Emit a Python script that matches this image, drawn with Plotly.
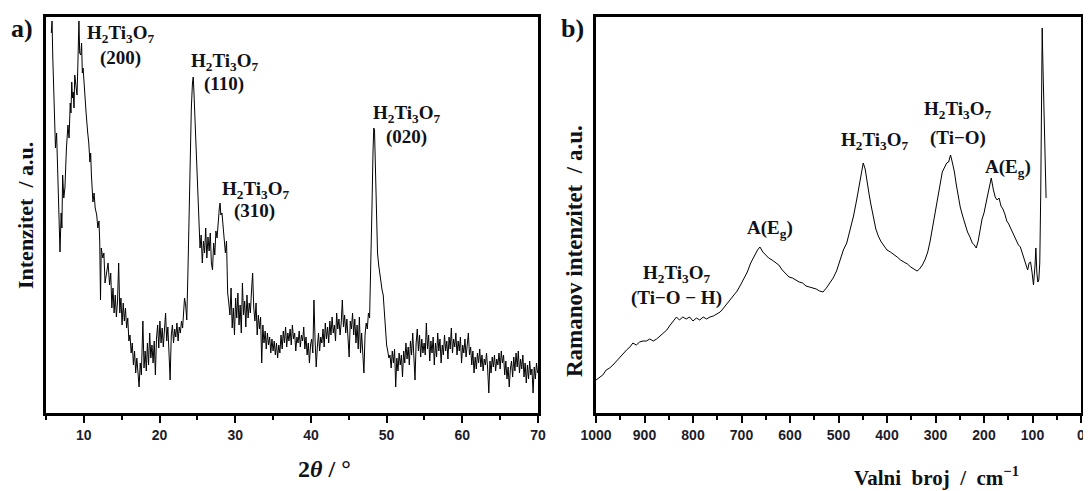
import plotly.graph_objects as go

# ---------------- XRD data (2theta / deg, intensity a.u.) ----------------
xrd_two_theta = [
    5.7, 5.8, 5.9, 6.0, 6.1, 6.25, 6.4, 6.5, 6.65, 6.75,
    6.85, 7.0, 7.1, 7.2, 7.35, 7.5, 7.6, 7.7, 7.9, 8.05,
    8.2, 8.3, 8.4, 8.5, 8.6, 8.7, 8.8, 8.95, 9.1, 9.2,
    9.25, 9.35, 9.45, 9.6, 9.7, 9.8, 9.9, 10.0, 10.1, 10.3,
    10.5, 10.65, 10.8, 10.9, 11.0, 11.2, 11.35, 11.5, 11.7, 11.85,
    12.0, 12.1, 12.2, 12.3, 12.5, 12.65, 12.8, 13.0, 13.2, 13.4,
    13.55, 13.7, 13.85, 14.0, 14.15, 14.3, 14.45, 14.6, 14.75, 14.9,
    15.05, 15.2, 15.35, 15.5, 15.65, 15.8, 15.95, 16.1, 16.25, 16.4,
    16.55, 16.7, 16.85, 17.0, 17.15, 17.3, 17.45, 17.6, 17.8, 17.95,
    18.1, 18.25, 18.4, 18.55, 18.7, 18.85, 19.0, 19.15, 19.3, 19.45,
    19.6, 19.75, 19.9, 20.05, 20.2, 20.35, 20.5, 20.65, 20.8, 20.95,
    21.1, 21.25, 21.4, 21.55, 21.7, 21.85, 22.0, 22.15, 22.3, 22.45,
    22.6, 22.75, 22.9, 23.05, 23.2, 23.3, 23.45, 23.6, 23.75, 23.9,
    24.05, 24.2, 24.35, 24.45, 24.55, 24.65, 24.8, 24.95, 25.1, 25.2,
    25.35, 25.5, 25.65, 25.8, 25.95, 26.1, 26.25, 26.4, 26.55, 26.7,
    26.85, 27.0, 27.15, 27.3, 27.45, 27.6, 27.75, 27.9, 28.0, 28.1,
    28.25, 28.4, 28.55, 28.7, 28.85, 29.0, 29.15, 29.3, 29.45, 29.6,
    29.75, 29.9, 30.05, 30.2, 30.35, 30.5, 30.65, 30.8, 30.95, 31.1,
    31.25, 31.4, 31.55, 31.7, 31.85, 32.0, 32.15, 32.3, 32.45, 32.6,
    32.75, 32.9, 33.05, 33.2, 33.35, 33.5, 33.65, 33.8, 33.95, 34.1,
    34.25, 34.4, 34.55, 34.7, 34.85, 35.0, 35.15, 35.3, 35.45, 35.6,
    35.75, 35.9, 36.05, 36.2, 36.35, 36.5, 36.65, 36.8, 36.95, 37.1,
    37.25, 37.4, 37.55, 37.7, 37.85, 38.0, 38.15, 38.3, 38.45, 38.6,
    38.75, 38.9, 39.05, 39.2, 39.35, 39.5, 39.65, 39.8, 39.95, 40.1,
    40.25, 40.4, 40.55, 40.7, 40.85, 41.0, 41.15, 41.3, 41.45, 41.6,
    41.75, 41.9, 42.05, 42.2, 42.35, 42.5, 42.65, 42.8, 42.95, 43.1,
    43.25, 43.4, 43.55, 43.7, 43.85, 44.0, 44.15, 44.3, 44.45, 44.6,
    44.75, 44.9, 45.05, 45.2, 45.35, 45.5, 45.65, 45.8, 45.95, 46.1,
    46.25, 46.4, 46.55, 46.7, 46.85, 47.0, 47.15, 47.3, 47.45, 47.6,
    47.75, 47.9, 48.05, 48.2, 48.3, 48.4, 48.5, 48.65, 48.8, 48.95,
    49.1, 49.25, 49.4, 49.55, 49.7, 49.85, 50.0, 50.15, 50.3, 50.45,
    50.6, 50.75, 50.9, 51.05, 51.2, 51.35, 51.5, 51.65, 51.8, 51.95,
    52.1, 52.25, 52.4, 52.55, 52.7, 52.85, 53.0, 53.15, 53.3, 53.45,
    53.6, 53.75, 53.9, 54.05, 54.2, 54.35, 54.5, 54.65, 54.8, 54.95,
    55.1, 55.25, 55.4, 55.55, 55.7, 55.85, 56.0, 56.15, 56.3, 56.45,
    56.6, 56.75, 56.9, 57.05, 57.2, 57.35, 57.5, 57.65, 57.8, 57.95,
    58.1, 58.25, 58.4, 58.55, 58.7, 58.85, 59.0, 59.15, 59.3, 59.45,
    59.6, 59.75, 59.9, 60.05, 60.2, 60.35, 60.5, 60.65, 60.8, 60.95,
    61.1, 61.25, 61.4, 61.55, 61.7, 61.85, 62.0, 62.15, 62.3, 62.45,
    62.6, 62.75, 62.9, 63.05, 63.2, 63.35, 63.5, 63.65, 63.8, 63.95,
    64.1, 64.25, 64.4, 64.55, 64.7, 64.85, 65.0, 65.15, 65.3, 65.45,
    65.6, 65.75, 65.9, 66.05, 66.2, 66.35, 66.5, 66.65, 66.8, 66.95,
    67.1, 67.25, 67.4, 67.55, 67.7, 67.85, 68.0, 68.15, 68.3, 68.45,
    68.6, 68.75, 68.9, 69.05, 69.2, 69.35, 69.5, 69.65, 69.8, 69.95,
]
xrd_intensity = [
    380, 392, 355, 330, 315, 265, 280, 248, 230, 198,
    161, 200, 185, 238, 215, 225, 250, 265, 288, 275,
    310, 300, 331, 315, 321, 305, 338, 325, 318, 345,
    365, 392, 360, 358, 370, 340, 345, 330, 318, 300,
    281, 270, 251, 260, 238, 211, 220, 205, 198, 185,
    192, 171, 113, 165, 155, 160, 130, 141, 150, 128,
    140, 105, 125, 100, 118, 96, 112, 150, 100, 115,
    88, 110, 92, 105, 85, 95, 72, 78, 60, 70,
    48, 62, 40, 55, 35, 26, 50, 38, 92, 45,
    62, 42, 70, 48, 80, 55, 68, 50, 72, 38,
    75, 88, 65, 92, 70, 85, 66, 80, 100, 72,
    86, 60, 33, 78, 88, 70, 84, 76, 90, 72,
    86, 80, 92, 85, 100, 115, 108, 93, 140, 200,
    260, 305, 330, 336, 320, 300, 273, 230, 200, 183,
    165, 178, 150, 172, 160, 185, 155, 176, 162, 180,
    150, 143, 170, 158, 182, 175, 195, 205, 210, 198,
    200, 185, 178, 160, 172, 120, 110, 98, 125, 85,
    105, 78, 115, 95, 120, 88, 108, 80, 130, 98,
    112, 86, 118, 95, 110, 100, 122, 140, 105, 92,
    110, 78, 98, 84, 96, 50, 88, 70, 82, 64,
    80, 68, 76, 60, 74, 62, 72, 58, 70, 55,
    68, 60, 78, 64, 82, 70, 86, 66, 80, 72,
    84, 68, 88, 74, 80, 62, 76, 70, 82, 66,
    78, 72, 86, 64, 76, 58, 70, 50, 68, 74,
    60, 113, 72, 46, 66, 80, 62, 76, 70, 84,
    66, 90, 74, 86, 70, 92, 78, 96, 80, 88,
    72, 100, 84, 94, 78, 90, 113, 86, 98, 80,
    94, 76, 56, 92, 84, 100, 78, 94, 70, 88,
    64, 96, 60, 80, 55, 40, 78, 90, 84, 100,
    95, 140, 200, 260, 285, 283, 250, 200, 160, 148,
    140, 128, 123, 118, 100, 80, 68, 62, 55, 58,
    45, 62, 50, 64, 26, 55, 42, 60, 48, 58,
    36, 62, 50, 70, 54, 66, 48, 72, 58, 80,
    60, 33, 70, 84, 62, 78, 56, 74, 60, 70,
    58, 90, 64, 78, 52, 72, 60, 76, 48, 70,
    56, 80, 62, 74, 50, 68, 58, 78, 62, 72,
    54, 76, 64, 85, 60, 74, 66, 80, 58, 72,
    62, 76, 50, 68, 60, 74, 56, 70, 80, 58,
    66, 48, 62, 40, 56, 44, 60, 50, 64, 46,
    58, 42, 54, 48, 60, 44, 20, 52, 40, 56,
    46, 58, 42, 54, 48, 60, 44, 62, 50, 58,
    38, 52, 34, 46, 26, 44, 52, 36, 56, 42,
    60, 46, 62, 40, 54, 44, 58, 36, 50, 30,
    48, 34, 52, 38, 44, 20, 46, 34, 50, 40,
]

# ---------------- Raman data (wavenumber / cm-1, intensity a.u.) ----------------
raman_wavenumber = [
    1000, 993, 986, 979, 972, 965, 958, 951, 944, 937,
    930, 924, 917, 910, 903, 896, 889, 882, 875, 868,
    861, 854, 847, 840, 834, 828, 821, 814, 807, 800,
    793, 786, 779, 772, 765, 758, 751, 744, 737, 730,
    723, 716, 709, 702, 695, 688, 681, 674, 667, 662,
    656, 650, 644, 637, 630, 623, 616, 609, 602, 595,
    588, 581, 574, 567, 560, 553, 546, 539, 532, 525,
    518, 511, 504, 497, 490, 483, 476, 469, 463, 457,
    452, 449, 445, 441, 437, 433, 428, 423, 418, 413,
    406, 400, 393, 386, 379, 372, 365, 358, 351, 344,
    338, 333, 327, 321, 316, 311, 306, 301, 296, 291,
    286, 281, 277, 273, 269, 265, 261, 257, 253, 249,
    244, 239, 234, 229, 224, 220, 216, 212, 208, 204,
    200, 196, 192, 188, 185, 181, 177, 173, 169, 165,
    161, 157, 153, 149, 145, 141, 137, 133, 129, 125,
    121, 117, 113, 110, 107, 104, 101, 98, 95, 93,
    91, 89, 87, 85, 83, 81, 80, 79, 78, 76,
    74, 72,
]
raman_intensity = [
    33, 36, 38, 43, 45, 48, 52, 55, 60, 63,
    66, 70, 68, 71, 72, 72, 74, 72, 74, 77,
    80, 83, 88, 92, 96, 93, 96, 94, 96, 92,
    95, 93, 96, 94, 96, 97, 99, 101, 105, 109,
    113, 118, 122, 128, 134, 141, 150, 157, 163, 166,
    161, 158, 155, 153, 150, 148, 143, 139, 136, 135,
    133, 131, 130, 127, 126, 125, 124, 122, 121, 125,
    130, 135, 142, 152, 163, 170, 183, 197, 212, 228,
    242, 250, 244, 230, 219, 208, 195, 184, 177, 172,
    167, 163, 161, 158, 156, 153, 151, 149, 146, 144,
    142, 144, 148, 154, 161, 172, 186, 200, 215, 230,
    241, 246, 250, 251, 258, 250, 241, 228, 216, 206,
    197, 188, 181, 176, 170, 168, 165, 172, 183, 194,
    200, 208, 219, 228, 235, 224, 216, 213, 215, 207,
    204, 199, 192, 189, 185, 181, 177, 172, 168, 166,
    160, 154, 147, 143, 150, 151, 141, 128, 146, 165,
    140, 131, 133, 150, 220, 330, 385, 360, 338, 300,
    255, 215,
]

xrd_ticks = [10, 20, 30, 40, 50, 60, 70]
raman_ticks = [1000, 900, 800, 700, 600, 500, 400, 300, 200, 100, 0]

# ---------------- helpers ----------------
# The page body places the figure 8 px from the window's top-left corner,
# so the figure is made 8 px smaller and positions are shifted by 8 px.
OFF = 8
W, H = 1091 - OFF, 491 - OFF

def px(x):
    return (x - OFF) / W

def py(y):
    return 1 - (y - OFF) / H

SERIF = "Liberation Serif"
TXT = "#111118"
TICKCOL = "#1c1c2a"

fig = go.Figure()
fig.add_trace(go.Scatter(x=xrd_two_theta, y=xrd_intensity, mode="lines",
                         line=dict(color="black", width=1), xaxis="x", yaxis="y",
                         showlegend=False, hoverinfo="skip"))
fig.add_trace(go.Scatter(x=raman_wavenumber, y=raman_intensity, mode="lines",
                         line=dict(color="black", width=1), xaxis="x2", yaxis="y2",
                         showlegend=False, hoverinfo="skip"))

ydom = [py(413), py(17)]
xax_common = dict(showline=True, linecolor="black", linewidth=2.5, mirror=True,
                  ticks="outside", ticklen=7, tickwidth=2, tickcolor="black",
                  showgrid=False, zeroline=False, automargin=False,
                  tickfont=dict(family="Liberation Sans", size=14, color=TICKCOL, weight="bold"))
yax_common = dict(showline=True, linecolor="black", linewidth=2.5, mirror=True,
                  ticks="", showticklabels=False, showgrid=False, zeroline=False,
                  automargin=False, range=[0, 396])

fig.update_layout(
    template="none",
    width=W, height=H, autosize=False,
    margin=dict(l=0, r=0, t=0, b=0, pad=0),
    paper_bgcolor="white", plot_bgcolor="white",
    xaxis=dict(domain=[px(46), px(538)], range=[5, 70], tickvals=xrd_ticks,
               minor=dict(dtick=5, tick0=5, ticks="outside", ticklen=4, tickwidth=2, tickcolor="black"),
               anchor="y", **xax_common),
    yaxis=dict(domain=ydom, anchor="x", **yax_common),
    xaxis2=dict(domain=[px(596), px(1081)], range=[1000, 0], tickvals=raman_ticks,
                minor=dict(dtick=50, tick0=0, ticks="outside", ticklen=4, tickwidth=2, tickcolor="black"),
                anchor="y2", **xax_common),
    yaxis2=dict(domain=ydom, anchor="x2", **yax_common),
)

H2 = "H<sub>2</sub>Ti<sub>3</sub>O<sub>7</sub>"
labels = [
    ("a)", 22, 28, 26, 0),
    ("b)", 572, 28, 26, 0),
    (H2, 120, 34, 19, 0), ("(200)", 120, 58, 19, 0),
    (H2, 224, 62, 19, 0), ("(110)", 224, 84, 19, 0),
    (H2, 255, 190, 19, 0), ("(310)", 254, 211, 19, 0),
    (H2, 406, 114, 19, 0), ("(020)", 406, 137, 19, 0),
    (H2, 676, 274, 19, 0), ("(Ti\u2212O \u2212 H)", 676, 298, 19, 0),
    ("A(E<sub>g</sub>)", 770, 229, 19, 0),
    (H2, 874, 141, 19, 0),
    (H2, 957, 110, 19, 0), ("(Ti\u2212O)", 958, 138, 19, 0),
    ("A(E<sub>g</sub>)", 1008, 168, 19, 0),
    ("Intenzitet  / a.u.", 25, 216, 22, -90),
    ("2<i>\u03b8</i> / \u00b0", 324, 469, 24, 0),
    ("Ramanov intenzitet  / a.u.", 575, 251, 23, -90),
    ("Valni  broj  /  cm<sup>\u22121</sup>", 936, 476, 21, 0),
]
for text, x, y, size, ang in labels:
    fig.add_annotation(text="<b>" + text + "</b>", x=px(x), y=py(y), xref="paper", yref="paper",
                       xanchor="center", yanchor="middle", showarrow=False, textangle=ang,
                       font=dict(family=SERIF, size=size, color=TXT))

fig.write_html("out.html")
